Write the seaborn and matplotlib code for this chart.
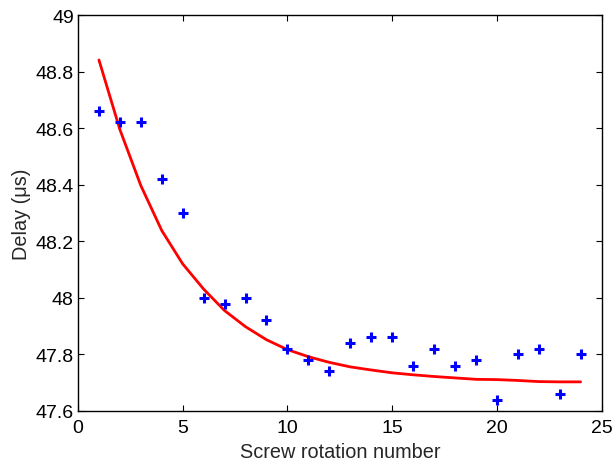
import matplotlib
matplotlib.use("Agg")
import matplotlib.pyplot as plt
import seaborn as sns
import pandas as pd

rotation = list(range(1, 25))
delay_meas = [48.66, 48.62, 48.62, 48.42, 48.30, 48.00, 47.98, 48.00, 47.92, 47.82,
              47.78, 47.74, 47.84, 47.86, 47.86, 47.76, 47.82, 47.76, 47.78, 47.64,
              47.80, 47.82, 47.66, 47.80]
delay_fit = [48.841, 48.595, 48.397, 48.238, 48.120, 48.031, 47.955, 47.898, 47.852, 47.817,
             47.792, 47.772, 47.756, 47.745, 47.735, 47.728, 47.722, 47.717, 47.712, 47.711,
             47.708, 47.704, 47.703, 47.703]
xticks = [0, 5, 10, 15, 20, 25]
yticks = [47.6, 47.8, 48.0, 48.2, 48.4, 48.6, 48.8, 49.0]
yticklabels = ["47.6", "47.8", "48", "48.2", "48.4", "48.6", "48.8", "49"]

df = pd.DataFrame({"x": rotation, "meas": delay_meas, "fit": delay_fit})

sns.set_style("ticks")
plt.rcParams["font.family"] = ["Liberation Sans", "DejaVu Sans"]
plt.rcParams["xtick.direction"] = "in"
plt.rcParams["ytick.direction"] = "in"

fig = plt.figure(figsize=(6.14, 4.64), dpi=100)
ax = fig.add_axes([78 / 614, 1 - 412 / 464, (601.5 - 78) / 614, (412 - 16) / 464])

sns.scatterplot(data=df, x="x", y="meas", marker="+", color="#0000ff", s=60,
                linewidth=2.2, ax=ax, zorder=3)
sns.lineplot(data=df, x="x", y="fit", color="#ff0000", linewidth=2, ax=ax, zorder=2)

ax.set_xlim(0, 25)
ax.set_ylim(47.6, 49.0)
ax.set_xticks(xticks)
ax.set_xticklabels([str(t) for t in xticks])
ax.set_yticks(yticks)
ax.set_yticklabels(yticklabels)
ax.tick_params(axis="both", which="both", top=True, right=True, labelsize=14,
               length=4, width=0.8, colors="black", pad=3)
ax.tick_params(axis="x", pad=6)
for s in ax.spines.values():
    s.set_linewidth(1.0)
    s.set_color("black")
ax.set_xlabel("Screw rotation number", fontsize=14.3, labelpad=4)
ax.set_ylabel("Delay (μs)", fontsize=14.3, labelpad=3)

fig.savefig("out.png", dpi=100)
